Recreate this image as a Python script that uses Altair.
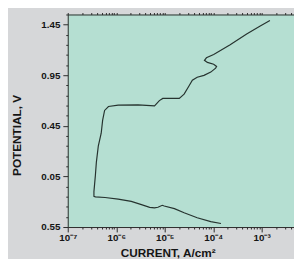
import altair as alt
import pandas as pd

# log10 of current density (A/cm^2) and potential (V)
log_current = [-3.84, -4.05, -4.33, -4.60, -4.80, -5.01, -5.05, -5.14, -5.21, -5.31,
               -5.48, -5.69, -5.96, -6.23, -6.43, -6.46, -6.46, -6.43, -6.41, -6.37,
               -6.31, -6.28, -6.24, -6.16, -5.96, -5.55, -5.21, -5.11, -5.04, -4.70,
               -4.60, -4.50, -4.43, -4.33, -4.19, -4.05, -3.95, -3.93, -3.99, -4.12,
               -4.18, -4.14, -3.99, -3.65, -3.31, -3.03, -2.83]
potential = [-0.515, -0.496, -0.458, -0.409, -0.368, -0.342, -0.335, -0.355, -0.361, -0.355,
             -0.329, -0.297, -0.274, -0.258, -0.252, -0.246, -0.200, -0.040, 0.089, 0.249,
             0.377, 0.506, 0.602, 0.641, 0.654, 0.657, 0.647, 0.699, 0.721, 0.721,
             0.763, 0.843, 0.901, 0.930, 0.949, 0.981, 1.020, 1.036, 1.058, 1.077,
             1.097, 1.122, 1.155, 1.251, 1.357, 1.437, 1.491]

x_ticks = [m * d for d in [1e-7, 1e-6, 1e-5, 1e-4, 1e-3] for m in range(1, 10)
           if m * d <= 4.6e-3]
y_ticks = [round(-0.55 + 0.1 * k, 2) for k in range(22)]
x_domain = [1e-7, 4.64e-3]
y_domain = [-0.55, 1.55]

df = pd.DataFrame({
    "current": [10 ** v for v in log_current],
    "potential": potential,
    "order": list(range(len(potential))),
})

FONT = "Liberation Sans"
is_pow10 = "abs(log(datum.value)/LN10 - round(log(datum.value)/LN10)) < 0.001"
sup = ("round(log(datum.value)/LN10) == -7 ? '10⁻⁷' : "
       "round(log(datum.value)/LN10) == -6 ? '10⁻⁶' : "
       "round(log(datum.value)/LN10) == -5 ? '10⁻⁵' : "
       "round(log(datum.value)/LN10) == -4 ? '10⁻⁴' : "
       "round(log(datum.value)/LN10) == -3 ? '10⁻³' : ''")
x_label_expr = f"({is_pow10}) ? ({sup}) : ''"
y_major = "round((datum.value + 0.55) * 100) % 50 == 0"

xscale = alt.Scale(type="log", domain=x_domain, nice=False)
yscale = alt.Scale(domain=y_domain, nice=False, zero=False)

y_enc = alt.Y("potential:Q", scale=yscale,
              axis=alt.Axis(values=y_ticks,
                            labelExpr=f"({y_major}) ? format(abs(datum.value), '.2f') : ''",
                            title="POTENTIAL, V", titleFont=FONT, titleFontSize=12,
                            titleFontWeight="bold", titleColor="#151515",
                            titleX=-52, titleY=123, titleBaseline="middle", titleAngle=270,
                            labelFont=FONT, labelFontSize=10, labelFontWeight="bold",
                            labelColor="#151515", labelPadding=3, labelFlush=False,
                            grid=False, domainColor="#2a2a2a", tickColor="#2a2a2a",
                            tickSize={"condition": {"test": y_major, "value": 5}, "value": 2}))

line = alt.Chart(df).mark_line(color="#26332f", strokeWidth=1.2).encode(
    x=alt.X("current:Q", scale=xscale,
            axis=alt.Axis(orient="bottom", values=x_ticks, labelExpr=x_label_expr,
                          title="CURRENT, A/cm²", titleFont=FONT, titleFontSize=12,
                          titleFontWeight="bold", titleColor="#151515",
                          titleX=102, titleY=26, titleBaseline="middle",
                          labelFont=FONT, labelFontSize=10, labelFontWeight="bold",
                          labelColor="#151515",
                          labelPadding=1, labelFlush=False, grid=False,
                          domainColor="#2a2a2a", tickColor="#2a2a2a",
                          tickSize={"condition": {"test": is_pow10, "value": 5}, "value": 2})),
    y=y_enc,
    order="order:Q",
)

top = alt.Chart(df).mark_line(strokeOpacity=0).encode(
    x=alt.X("current:Q", scale=xscale,
            axis=alt.Axis(orient="top", values=x_ticks, labels=False, title=None,
                          grid=False, domainColor="#2a2a2a", tickColor="#2a2a2a",
                          tickSize=2)),
    y=y_enc,
    order="order:Q",
)

chart = alt.layer(line, top).resolve_axis(x="independent").properties(
    width=231, height=217,
    autosize=alt.AutoSizeParams(type="none"),
    padding={"left": 61, "top": 4, "right": 0, "bottom": 30},
    background="#d6d7d9",
).configure_view(fill="#b5dfd2", stroke=None)

chart.save("out.html", embed_options={"renderer": "svg", "actions": False})
